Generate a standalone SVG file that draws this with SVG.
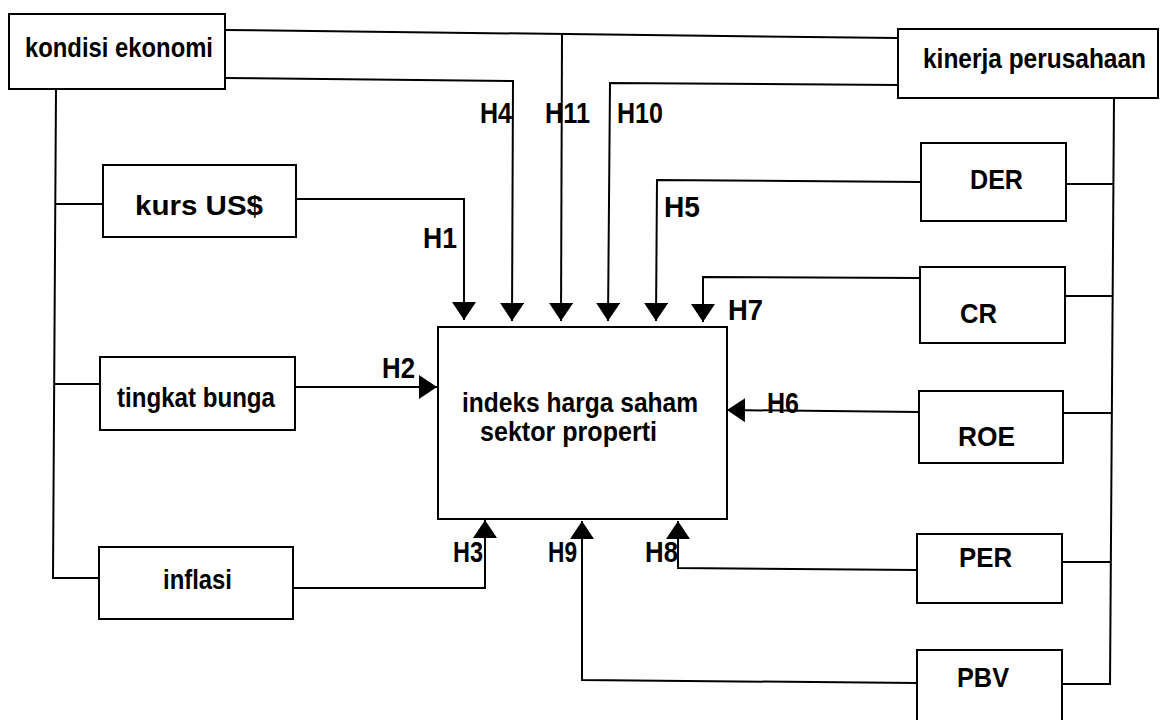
<svg xmlns="http://www.w3.org/2000/svg" width="1161" height="720" viewBox="0 0 1161 720">
<style>
.box{fill:#fff;stroke:#000;stroke-width:2}
.wire{fill:none;stroke:#000;stroke-width:2}
.lbl{font-family:"Liberation Sans",Arial,sans-serif;font-weight:bold;font-size:28px;fill:#000}
.var{font-family:"Liberation Sans",Arial,sans-serif;font-weight:bold;font-size:28px;fill:#000}
.h{font-family:"Liberation Sans",Arial,sans-serif;font-weight:bold;font-size:29px;fill:#000}
</style>
<defs>
<marker id="arr" viewBox="0 0 18 24" refX="18" refY="12" markerWidth="18" markerHeight="24" markerUnits="userSpaceOnUse" orient="auto">
<path d="M0,0 L18,12 L0,24 z" fill="#000"/>
</marker>
</defs>
<rect x="0" y="0" width="1161" height="720" fill="#fff"/>

<g id="connectors">
<path class="wire" d="M225,30 L898,38"/>
<path class="wire" d="M562,34 L561,321" marker-end="url(#arr)"/>
<path class="wire" d="M225,78 L513,81 L512,321" marker-end="url(#arr)"/>
<path class="wire" d="M898,85 L610,83 L608,321" marker-end="url(#arr)"/>
<path class="wire" d="M921,182 L657,180 L656,321" marker-end="url(#arr)"/>
<path class="wire" d="M920,278 L703,277 L703,322" marker-end="url(#arr)"/>
<path class="wire" d="M296,199 L464,199 L464,320" marker-end="url(#arr)"/>
<path class="wire" d="M56,89 L53,578 L99,578"/>
<path class="wire" d="M55,204 L103,204"/>
<path class="wire" d="M54,384 L100,384"/>
<path class="wire" d="M295,387 L437,387" marker-end="url(#arr)"/>
<path class="wire" d="M918,412 L727,410" marker-end="url(#arr)"/>
<path class="wire" d="M293,588 L485,588 L485,520" marker-end="url(#arr)"/>
<path class="wire" d="M917,683 L582,680 L582,521" marker-end="url(#arr)"/>
<path class="wire" d="M917,570 L678,568 L678,521" marker-end="url(#arr)"/>
<path class="wire" d="M1114,98 L1110,685"/>
<path class="wire" d="M1066,184 L1114,184"/>
<path class="wire" d="M1065,296 L1113,296"/>
<path class="wire" d="M1063,413 L1112,413"/>
<path class="wire" d="M1062,562 L1111,562"/>
<path class="wire" d="M1062,684 L1110,684"/>
</g>

<g id="kondisi-ekonomi">
<rect class="box" x="9" y="14" width="216" height="75"/>
<text class="lbl" x="25" y="57" textLength="188" lengthAdjust="spacingAndGlyphs">kondisi ekonomi</text>
</g>
<g id="kinerja-perusahaan">
<rect class="box" x="898" y="29" width="260" height="69"/>
<text class="lbl" x="923" y="68" textLength="223" lengthAdjust="spacingAndGlyphs">kinerja perusahaan</text>
</g>
<g id="kurs">
<rect class="box" x="103" y="165" width="193" height="72"/>
<text class="lbl" x="135" y="215" textLength="128" lengthAdjust="spacingAndGlyphs">kurs US$</text>
</g>
<g id="tingkat-bunga">
<rect class="box" x="100" y="357" width="195" height="73"/>
<text class="lbl" x="117" y="407" textLength="158" lengthAdjust="spacingAndGlyphs">tingkat bunga</text>
</g>
<g id="inflasi">
<rect class="box" x="99" y="547" width="194" height="72"/>
<text class="lbl" x="163" y="589" textLength="69" lengthAdjust="spacingAndGlyphs">inflasi</text>
</g>
<g id="indeks">
<rect class="box" x="438" y="327" width="289" height="192"/>
<text class="lbl" x="462" y="412" textLength="236" lengthAdjust="spacingAndGlyphs">indeks harga saham</text>
<text class="lbl" x="480" y="441" textLength="177" lengthAdjust="spacingAndGlyphs">sektor properti</text>
</g>
<g id="der">
<rect class="box" x="921" y="143" width="145" height="78"/>
<text class="var" x="970" y="189" textLength="53" lengthAdjust="spacingAndGlyphs">DER</text>
</g>
<g id="cr">
<rect class="box" x="920" y="267" width="145" height="76"/>
<text class="var" x="960" y="323" textLength="37" lengthAdjust="spacingAndGlyphs">CR</text>
</g>
<g id="roe">
<rect class="box" x="919" y="391" width="144" height="72"/>
<text class="var" x="958" y="446" textLength="57" lengthAdjust="spacingAndGlyphs">ROE</text>
</g>
<g id="per">
<rect class="box" x="917" y="534" width="145" height="69"/>
<text class="var" x="959" y="567" textLength="53" lengthAdjust="spacingAndGlyphs">PER</text>
</g>
<g id="pbv">
<path class="box" d="M917,724 L917,650 L1062,650 L1062,724"/>
<text class="var" x="957" y="687" textLength="52" lengthAdjust="spacingAndGlyphs">PBV</text>
</g>

<g id="hypothesis-labels">
<text class="h" x="423" y="248" textLength="34" lengthAdjust="spacingAndGlyphs">H1</text>
<text class="h" x="382" y="378" textLength="33" lengthAdjust="spacingAndGlyphs">H2</text>
<text class="h" x="453" y="562" textLength="30" lengthAdjust="spacingAndGlyphs">H3</text>
<text class="h" x="480" y="123" textLength="32" lengthAdjust="spacingAndGlyphs">H4</text>
<text class="h" x="664" y="217" textLength="36" lengthAdjust="spacingAndGlyphs">H5</text>
<text class="h" x="767" y="413" textLength="32" lengthAdjust="spacingAndGlyphs">H6</text>
<text class="h" x="728" y="320" textLength="35" lengthAdjust="spacingAndGlyphs">H7</text>
<text class="h" x="645" y="562" textLength="33" lengthAdjust="spacingAndGlyphs">H8</text>
<text class="h" x="548" y="562" textLength="29" lengthAdjust="spacingAndGlyphs">H9</text>
<text class="h" x="617" y="123" textLength="46" lengthAdjust="spacingAndGlyphs">H10</text>
<text class="h" x="545" y="123" textLength="45" lengthAdjust="spacingAndGlyphs">H11</text>
</g>
</svg>
